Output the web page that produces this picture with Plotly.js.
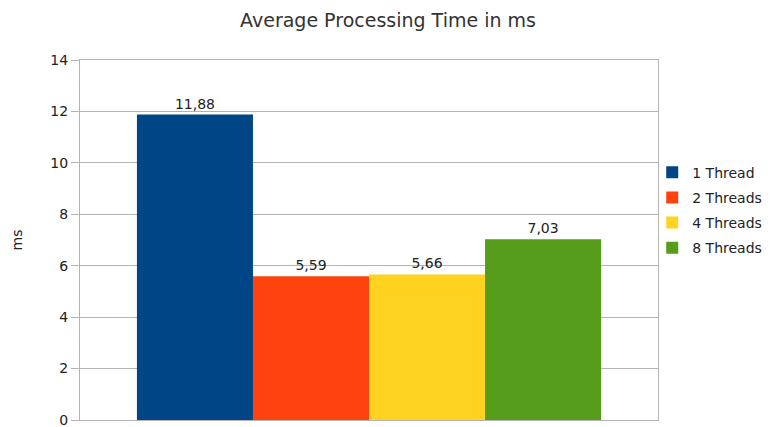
<!DOCTYPE html>
<html><head><meta charset="utf-8">
<script src="https://cdn.plot.ly/plotly-3.0.1.min.js"></script>
<style>body{margin:0;background:#fff}#c{width:776px;height:427px}</style>
</head><body><div id="c"></div>
<script>
const category = ["Average"];
const seriesNames = ["1 Thread", "2 Threads", "4 Threads", "8 Threads"];
const seriesValues = [11.88, 5.59, 5.66, 7.03];
const seriesColors = ["#004586", "#ff420e", "#ffd320", "#579d1c"];
const yTicks = [0, 2, 4, 6, 8, 10, 12, 14];

const FONT = "DejaVu Sans, Verdana, sans-serif";
const traces = seriesNames.map((n, i) => ({
  type: "bar", name: n, x: category, y: [seriesValues[i]], legendgroup: "g" + i,
  marker: {color: seriesColors[i], line: {width: 0}},
  texttemplate: "%{y:.2f}", textposition: "outside", cliponaxis: false,
  textfont: {family: FONT, size: 14, color: "#222"},
  hoverinfo: "none"
}));

Plotly.newPlot("c", traces, {
  width: 776, height: 427,
  separators: ",.",
  margin: {l: 80, r: 118, t: 60, b: 7, autoexpand: false},
  paper_bgcolor: "#fff", plot_bgcolor: "#fff",
  font: {family: FONT, size: 14, color: "#222"},
  title: {text: "Average Processing Time in ms", x: 0.5, xanchor: "center", y: 0.953, yanchor: "middle",
          font: {family: FONT, size: 19, color: "#333"}},
  barmode: "group", bargap: 0.197, bargroupgap: 0,
  xaxis: {showticklabels: false, showgrid: false, zeroline: false, showline: true, mirror: true,
          linecolor: "#b3b3b3", linewidth: 1, ticks: "", range: [-0.5, 0.5]},
  yaxis: {range: [0, 14], tickvals: yTicks, showgrid: true, gridcolor: "#b3b3b3", gridwidth: 1,
          zeroline: false, showline: true, mirror: true, linecolor: "#b3b3b3", linewidth: 1,
          ticks: "outside", ticklen: 8, tickcolor: "#b3b3b3", ticklabeloverflow: "allow",
          tickfont: {family: FONT, size: 14, color: "#222"},
          title: {text: "ms", standoff: 24, font: {family: FONT, size: 14, color: "#222"}}},
  legend: {x: 0.99, xanchor: "left", y: 0.583, yanchor: "middle", itemwidth: 30,
           traceorder: "grouped", tracegroupgap: 4,
           font: {family: FONT, size: 14, color: "#222"}, bgcolor: "rgba(0,0,0,0)"},
  showlegend: true
}, {staticPlot: true});
</script></body></html>
